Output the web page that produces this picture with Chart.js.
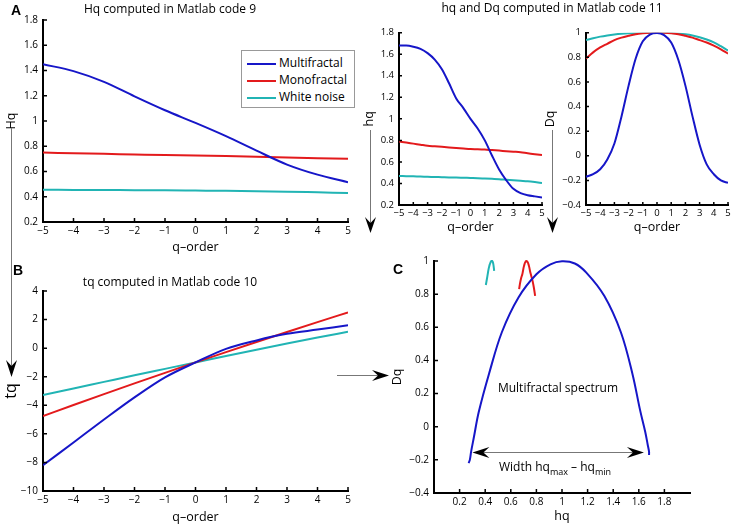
<!DOCTYPE html>
<html>
<head>
<meta charset="utf-8">
<script src="https://cdn.jsdelivr.net/npm/chart.js@4.4.0/dist/chart.umd.min.js"></script>
<style>
body { margin: 0; background: #fff; }
#fig { position: relative; width: 734px; height: 526px; overflow: hidden; font-family: "Open Sans", sans-serif; color: #000; }
#fig canvas { position: absolute; }
.t { position: absolute; font-size: 12px; line-height: 12px; white-space: nowrap; }
.c { transform: translateX(-50%); }
.p { position: absolute; font: bold 14px "Liberation Sans", Arial, sans-serif; line-height: 14px; }
#legend { position: absolute; left: 241px; top: 50px; width: 112px; height: 56px; border: 1px solid #999; background: #fff; }
#legend .row { position: absolute; left: 0; height: 12px; font-size: 12px; line-height: 12px; white-space: nowrap; }
#legend .sw { position: absolute; left: 5px; top: 6px; width: 29px; height: 2px; }
#legend .lb { position: absolute; left: 37px; top: 0; }
sub { font-size: 9px; vertical-align: -4px; line-height: 0; }
svg { position: absolute; left: 0; top: 0; }
</style>
</head>
<body>
<div id="fig">
  <canvas id="cA" width="354" height="246" style="left:4px;top:9px"></canvas>
  <canvas id="cH" width="188" height="213" style="left:362px;top:22px"></canvas>
  <canvas id="cD" width="191" height="213" style="left:543px;top:22px"></canvas>
  <canvas id="cB" width="356" height="245" style="left:2px;top:280px"></canvas>
  <canvas id="cC" width="310" height="274" style="left:390px;top:250px"></canvas>

  <div class="t c" style="left:170px;top:3px">Hq computed in Matlab code 9</div>
  <div class="t c" style="left:552px;top:2px">hq and Dq computed in Matlab code 11</div>
  <div class="t c" style="left:170px;top:276px">tq computed in Matlab code 10</div>
  <div class="t c" style="left:558px;top:382px">Multifractal spectrum</div>
  <div class="t" style="left:499px;top:461px">Width hq<sub>max</sub> – hq<sub>min</sub></div>

  <div class="p" style="left:11px;top:3px">A</div>
  <div class="p" style="left:13px;top:263px">B</div>
  <div class="p" style="left:393px;top:262px">C</div>

  <div id="legend">
    <div class="row" style="top:6px"><div class="sw" style="background:#1616c8"></div><div class="lb">Multifractal</div></div>
    <div class="row" style="top:23px"><div class="sw" style="background:#e31a1c"></div><div class="lb">Monofractal</div></div>
    <div class="row" style="top:40px"><div class="sw" style="background:#21b4b4"></div><div class="lb">White noise</div></div>
  </div>

  <svg width="734" height="526">
    <g stroke="#777" stroke-width="1">
      <line x1="11.5" y1="128" x2="11.5" y2="370"/>
      <line x1="370.5" y1="130" x2="370.5" y2="226"/>
      <line x1="552.5" y1="130" x2="552.5" y2="226"/>
      <line x1="337" y1="375.5" x2="382" y2="375.5"/>
    </g>
    <g fill="#000">
      <polygon points="11.5,377 6,360 11.5,366 17,360"/>
      <polygon points="370.5,233 365,217 370.5,223 376,217"/>
      <polygon points="552.5,233 547,217 552.5,223 558,217"/>
      <polygon points="389,375.5 372,370 378,375.5 372,381"/>
    </g>
  </svg>
</div>

<script>
// q-order grids
const qOrder = [-5, -4, -3, -2, -1, 0, 1, 2, 3, 4, 5];
const qFine = [-5, -4.5, -4, -3.5, -3, -2.5, -2, -1.5, -1, -0.5, 0, 0.5, 1, 1.5, 2, 2.5, 3, 3.5, 4, 4.5, 5];

// Hq (Matlab code 9)
const HqMulti = [1.45, 1.395, 1.31, 1.195, 1.085, 0.985, 0.88, 0.765, 0.655, 0.575, 0.515];
const HqMono = [0.75, 0.745, 0.74, 0.735, 0.73, 0.727, 0.722, 0.716, 0.71, 0.705, 0.70];
const HqWhite = [0.455, 0.454, 0.453, 0.452, 0.451, 0.449, 0.447, 0.444, 0.44, 0.435, 0.43];

// tq (Matlab code 10)
const tqMulti = [-8.2, -6.6, -5.0, -3.45, -2.05, -1.0, -0.05, 0.54, 1.0, 1.3, 1.6];
const tqMono = [-4.75, -3.98, -3.22, -2.47, -1.73, -1.0, -0.28, 0.43, 1.13, 1.82, 2.5];
const tqWhite = [-3.28, -2.82, -2.36, -1.9, -1.45, -1.0, -0.55, -0.11, 0.32, 0.74, 1.15];

// hq and Dq (Matlab code 11)
const hqMulti = [1.68, 1.68, 1.67, 1.65, 1.61, 1.55, 1.46, 1.33, 1.19, 1.10, 1.00, 0.91, 0.80, 0.66, 0.53, 0.43, 0.35, 0.31, 0.29, 0.28, 0.27];
const hqMono = [0.79, 0.78, 0.77, 0.76, 0.75, 0.745, 0.74, 0.735, 0.73, 0.725, 0.72, 0.718, 0.715, 0.71, 0.705, 0.70, 0.695, 0.69, 0.68, 0.672, 0.665];
const hqWhite = [0.47, 0.468, 0.466, 0.464, 0.462, 0.46, 0.458, 0.456, 0.455, 0.453, 0.451, 0.449, 0.446, 0.443, 0.44, 0.435, 0.43, 0.425, 0.42, 0.413, 0.405];
const DqMulti = [-0.17, -0.15, -0.11, -0.03, 0.10, 0.32, 0.57, 0.79, 0.93, 0.985, 0.998, 0.98, 0.92, 0.78, 0.57, 0.32, 0.09, -0.07, -0.15, -0.20, -0.22];
const DqMono = [0.79, 0.84, 0.88, 0.91, 0.94, 0.96, 0.975, 0.988, 0.995, 0.999, 1.0, 0.999, 0.995, 0.988, 0.975, 0.96, 0.94, 0.92, 0.895, 0.865, 0.83];
const DqWhite = [0.94, 0.955, 0.968, 0.978, 0.986, 0.992, 0.996, 0.998, 1.0, 1.0, 1.0, 1.0, 0.998, 0.994, 0.988, 0.978, 0.963, 0.945, 0.922, 0.89, 0.855];

// width annotation in the spectrum panel
const widthFrom = 0.30, widthTo = 1.64, widthAt = -0.155;

const BLUE = '#1616c8', RED = '#e31a1c', CYAN = '#21b4b4';
const FONT = '"Open Sans", sans-serif';

function pts(xs, ys) { return xs.map((x, i) => ({ x: x, y: ys[i] })); }
function fmt(v) { return String(Math.round(v * 100) / 100).replace('-', '\u2212'); }

// matlab style ticks pointing into the axes
const inwardTicks = {
    id: 'inwardTicks',
    afterDraw(chart, args, opts) {
        const { ctx, chartArea, scales } = chart;
        const len = opts.len || 4;
        ctx.save();
        ctx.strokeStyle = '#000';
        ctx.lineWidth = 1.5;
        ctx.beginPath();
        scales.x.ticks.forEach(t => {
            const px = scales.x.getPixelForValue(t.value);
            ctx.moveTo(px, chartArea.bottom);
            ctx.lineTo(px, chartArea.bottom - len);
        });
        scales.y.ticks.forEach(t => {
            const py = scales.y.getPixelForValue(t.value);
            ctx.moveTo(chartArea.left, py);
            ctx.lineTo(chartArea.left + len, py);
        });
        ctx.stroke();
        ctx.restore();
    }
};

function head(ctx, x, y, dir) {
    ctx.beginPath();
    ctx.moveTo(x, y);
    ctx.lineTo(x - dir * 17, y - 5.5);
    ctx.lineTo(x - dir * 11, y);
    ctx.lineTo(x - dir * 17, y + 5.5);
    ctx.closePath();
    ctx.fill();
}

const widthArrow = {
    id: 'widthArrow',
    afterDatasetsDraw(chart) {
        const { ctx, scales } = chart;
        const x1 = scales.x.getPixelForValue(widthFrom);
        const x2 = scales.x.getPixelForValue(widthTo);
        const y = Math.round(scales.y.getPixelForValue(widthAt)) + 0.5;
        ctx.save();
        ctx.strokeStyle = '#777';
        ctx.lineWidth = 1;
        ctx.beginPath();
        ctx.moveTo(x1 + 8, y);
        ctx.lineTo(x2 - 8, y);
        ctx.stroke();
        ctx.fillStyle = '#000';
        head(ctx, x1, y, -1);
        head(ctx, x2, y, 1);
        ctx.restore();
    }
};

function axis(min, max, step, title, o, isX) {
    return {
        type: 'linear',
        min: min,
        max: max,
        ticks: {
            stepSize: step,
            autoSkip: false,
            maxRotation: 0,
            padding: isX ? 3 : 5,
            color: '#000',
            font: { family: FONT, size: o.tickSize },
            callback: fmt
        },
        afterBuildTicks: o.trim && isX ? s => { s.ticks = s.ticks.filter(t => t.value > min + 1e-6 && t.value < max - 1e-6); } : undefined,
        grid: { display: false, drawTicks: false },
        border: { display: true, color: '#000', width: 2 },
        title: {
            display: true,
            text: title,
            color: '#000',
            padding: 0,
            font: { family: FONT, size: isX ? o.xTitleSize : o.yTitleSize }
        },
        afterFit: isX ? s => { s.height = o.xh; } : s => { s.width = o.yw; }
    };
}

function panel(id, series, o) {
    return new Chart(document.getElementById(id), {
        type: 'line',
        data: {
            datasets: series.map(s => ({
                data: s.data,
                borderColor: s.color,
                borderWidth: 2,
                pointRadius: 0,
                fill: false,
                clip: o.param ? false : undefined,
                tension: o.param ? 0.35 : 0.4,
                cubicInterpolationMode: o.param ? 'default' : 'monotone'
            }))
        },
        options: {
            responsive: false,
            animation: false,
            devicePixelRatio: 1,
            layout: { padding: { left: 0, top: o.padT, right: o.padR, bottom: 0 } },
            plugins: {
                legend: { display: false },
                tooltip: { enabled: false },
                inwardTicks: { len: o.tickLen }
            },
            scales: {
                x: axis(o.x[0], o.x[1], o.x[2], o.xTitle, o, true),
                y: axis(o.y[0], o.y[1], o.y[2], o.yTitle, o, false)
            }
        },
        plugins: [inwardTicks].concat(o.extra || [])
    });
}

panel('cA', [
    { data: pts(qOrder, HqMulti), color: BLUE },
    { data: pts(qOrder, HqMono), color: RED },
    { data: pts(qOrder, HqWhite), color: CYAN }
], { x: [-5, 5, 1], y: [0.2, 1.8, 0.2], xTitle: 'q\u2013order', yTitle: 'Hq',
     yw: 39, xh: 33, padT: 8, padR: 10, tickSize: 10, xTitleSize: 12.5, yTitleSize: 12.5, tickLen: 4 });

panel('cH', [
    { data: pts(qFine, hqMulti), color: BLUE },
    { data: pts(qFine, hqMono), color: RED },
    { data: pts(qFine, hqWhite), color: CYAN }
], { x: [-5, 5, 1], y: [0.2, 1.8, 0.2], xTitle: 'q\u2013order', yTitle: 'hq',
     yw: 37, xh: 30, padT: 8, padR: 8, tickSize: 9.5, xTitleSize: 12.5, yTitleSize: 12.5, tickLen: 3 });

panel('cD', [
    { data: pts(qFine, DqMulti), color: BLUE },
    { data: pts(qFine, DqMono), color: RED },
    { data: pts(qFine, DqWhite), color: CYAN }
], { x: [-5, 5, 1], y: [-0.4, 1, 0.2], xTitle: 'q\u2013order', yTitle: 'Dq',
     yw: 43, xh: 30, padT: 8, padR: 6, tickSize: 9.5, xTitleSize: 12.5, yTitleSize: 12.5, tickLen: 3 });

panel('cB', [
    { data: pts(qOrder, tqMulti), color: BLUE },
    { data: pts(qOrder, tqMono), color: RED },
    { data: pts(qOrder, tqWhite), color: CYAN }
], { x: [-5, 5, 1], y: [-10, 4, 2], xTitle: 'q\u2013order', yTitle: 'tq',
     yw: 41, xh: 34, padT: 8, padR: 10, tickSize: 10, xTitleSize: 12.5, yTitleSize: 16, tickLen: 4 });

panel('cC', [
    { data: pts(hqMulti, DqMulti), color: BLUE },
    { data: pts(hqMono, DqMono), color: RED },
    { data: pts(hqWhite, DqWhite), color: CYAN }
], { x: [0, 2, 0.2], y: [-0.4, 1, 0.2], xTitle: 'hq', yTitle: 'Dq', trim: true, param: true,
     yw: 44, xh: 31, padT: 8, padR: 10, tickSize: 10, xTitleSize: 12.5, yTitleSize: 12.5, tickLen: 4,
     extra: [widthArrow] });
</script>
</body>
</html>
